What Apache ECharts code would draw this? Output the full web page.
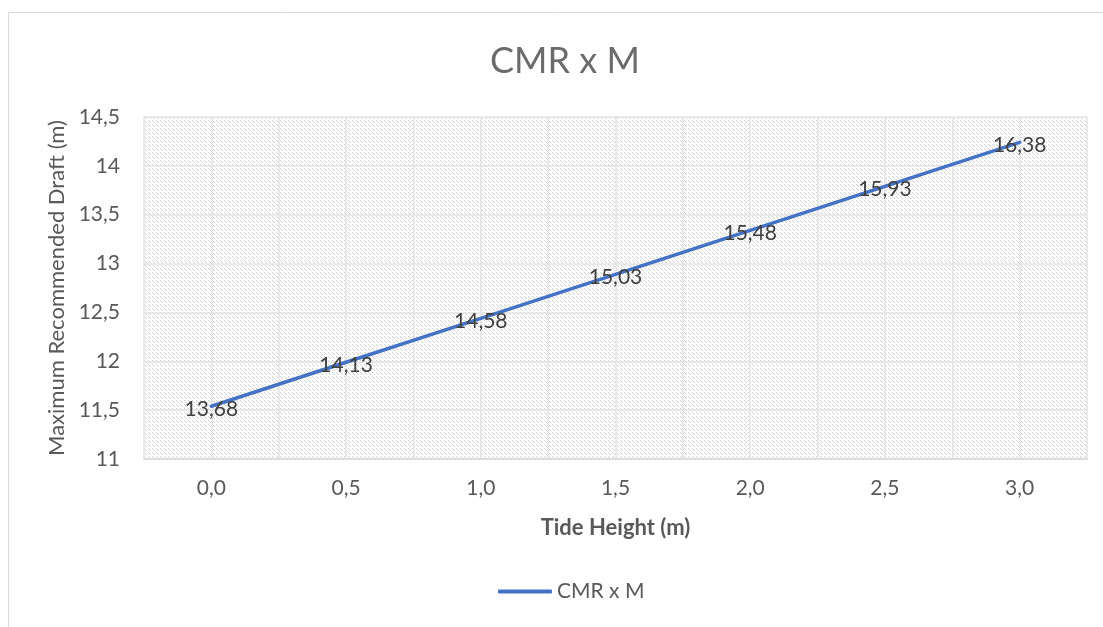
<!DOCTYPE html>
<html>
<head>
<meta charset="utf-8">
<script src="https://cdn.jsdelivr.net/npm/echarts@6/dist/echarts.min.js"></script>
<style>
html,body{margin:0;padding:0;background:#fff;}
#chart{width:1103px;height:627px;}
</style>
</head>
<body>
<div id="chart"></div>
<script>
const tideHeights = [0.0, 0.5, 1.0, 1.5, 2.0, 2.5, 3.0];
const draftValues = [11.54, 11.99, 12.44, 12.89, 13.34, 13.79, 14.24];
const pointLabels = ['13,68', '14,13', '14,58', '15,03', '15,48', '15,93', '16,38'];
const seriesName = 'CMR x M';

const pc = document.createElement('canvas');
pc.width = 8; pc.height = 8;
const pctx = pc.getContext('2d');
pctx.fillStyle = '#ffffff';
pctx.fillRect(0, 0, 8, 8);
pctx.fillStyle = '#d2d2d2';
for (let y = 0; y < 8; y++) {
  if (y % 4 < 3) {
    pctx.fillRect(y % 8, y, 1, 1);
    pctx.fillRect((y + 4) % 8, y, 1, 1);
  }
}

const font = 'Lato, "Open Sans", sans-serif';
const chart = echarts.init(document.getElementById('chart'));
chart.setOption({
  animation: false,
  backgroundColor: '#ffffff',
  textStyle: { fontFamily: font },
  graphic: [{
    type: 'rect',
    shape: { x: 8.5, y: 12.5, width: 1200, height: 700 },
    style: { fill: 'none', stroke: '#d9d9d9', lineWidth: 1 },
    silent: true, z: -10
  }],
  title: {
    text: 'CMR x M',
    left: 485,
    top: 38,
    textStyle: { fontSize: 36, fontWeight: 'normal', color: '#6b6b6b', fontFamily: font }
  },
  legend: {
    bottom: 20,
    left: 493,
    icon: 'roundRect',
    itemWidth: 54,
    itemHeight: 4,
    data: [{ name: seriesName, itemStyle: { color: '#4472C4' } }],
    textStyle: { fontSize: 21, color: '#595959', fontFamily: font }
  },
  grid: {
    left: 144, right: 16, top: 117, bottom: 168,
    show: true,
    backgroundColor: { image: pc, repeat: 'repeat' },
    borderWidth: 0
  },
  xAxis: {
    type: 'value',
    min: -0.25,
    max: 3.25,
    interval: 0.25,
    name: 'Tide Height (m)',
    nameLocation: 'middle',
    nameGap: 58,
    nameTextStyle: { fontSize: 22, fontWeight: 'bold', color: '#595959', fontFamily: font },
    axisLine: { show: true, lineStyle: { color: '#d9d9d9', width: 1.5 } },
    axisTick: { show: false },
    splitLine: { show: true, lineStyle: { color: '#e3e3e3', width: 1.5 } },
    axisLabel: {
      fontSize: 21, color: '#595959', margin: 19, fontFamily: font,
      formatter: function (v) {
        const r = Math.round(v * 100) / 100;
        if (Math.abs(r * 2 - Math.round(r * 2)) > 1e-6 || r < 0 || r > 3) return '';
        return r.toFixed(1).replace('.', ',');
      }
    }
  },
  yAxis: {
    type: 'value',
    min: 11,
    max: 14.5,
    interval: 0.5,
    name: 'Maximum Recommended Draft (m)',
    nameLocation: 'middle',
    nameGap: 76,
    nameRotate: 90,
    nameTextStyle: { fontSize: 22, color: '#595959', fontFamily: font },
    axisLine: { show: false },
    axisTick: { show: false },
    splitLine: { show: true, lineStyle: { color: '#e3e3e3', width: 1.5 } },
    axisLabel: {
      fontSize: 21, color: '#595959', margin: 24, fontFamily: font,
      formatter: function (v) { return String(v).replace('.', ','); }
    }
  },
  series: [{
    name: seriesName,
    type: 'line',
    data: tideHeights.map((x, i) => [x, draftValues[i]]),
    symbol: 'circle',
    symbolSize: 1,
    itemStyle: { color: 'rgba(0,0,0,0)', borderWidth: 0 },
    lineStyle: { color: '#4472C4', width: 3.5, cap: 'round' },
    label: {
      show: true,
      position: 'inside',
      offset: [0, 3],
      fontSize: 21,
      color: '#404040',
      fontFamily: font,
      formatter: function (p) { return pointLabels[p.dataIndex]; }
    },
    z: 5
  }]
});
</script>
</body>
</html>
